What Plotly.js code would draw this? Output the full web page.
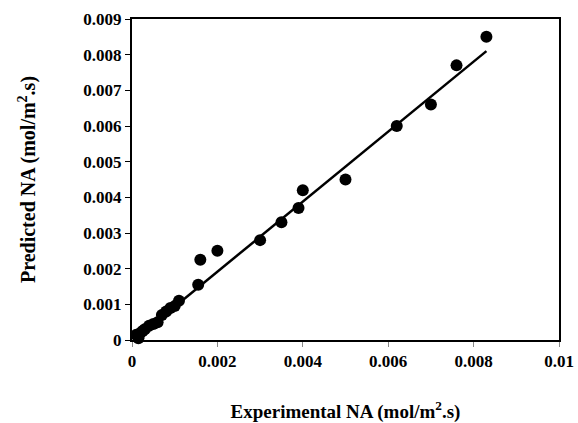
<!DOCTYPE html>
<html><head><meta charset="utf-8">
<script src="https://cdn.plot.ly/plotly-3.0.1.min.js"></script>
<style>html,body{margin:0;padding:0;background:#fff}#c{width:578px;height:423px}</style>
</head><body><div id="c"></div>
<script>
var expNA = [0.0083, 0.0076, 0.0070, 0.0062, 0.0050, 0.0040, 0.0039, 0.0035, 0.0030, 0.0020, 0.0016, 0.00155,
             0.0011, 0.0010, 0.0009, 0.0008, 0.0007, 0.0006, 0.0005, 0.0004, 0.0003, 0.00025, 0.0002, 0.00015, 0.0001, 0.00015];
var predNA = [0.0085, 0.0077, 0.0066, 0.0060, 0.0045, 0.0042, 0.0037, 0.0033, 0.0028, 0.0025, 0.00225, 0.00155,
              0.0011, 0.00095, 0.0009, 0.0008, 0.0007, 0.0005, 0.00045, 0.0004, 0.0003, 0.00025, 0.0002, 0.0001, 0.00015, 0.00005];
var fitX = [0.0001, 0.0083];
var fitY = [0.00005, 0.0081];
var xTickVals = [0, 0.002, 0.004, 0.006, 0.008, 0.01];
var xTickText = ['0', '0.002', '0.004', '0.006', '0.008', '0.01'];
var yTickVals = [0, 0.001, 0.002, 0.003, 0.004, 0.005, 0.006, 0.007, 0.008, 0.009];
var yTickText = ['0', '0.001', '0.002', '0.003', '0.004', '0.005', '0.006', '0.007', '0.008', '0.009'];
var fam = 'Liberation Serif';
function bold(a){ return a.map(function(s){ return '<b>' + s + '</b>'; }); }
Plotly.newPlot('c', [
  {x: expNA, y: predNA, type: 'scatter', mode: 'markers', marker: {color: '#000', size: 12}, cliponaxis: false},
  {x: fitX, y: fitY, type: 'scatter', mode: 'lines', line: {color: '#000', width: 2.5}}
], {
  width: 578, height: 423, showlegend: false,
  margin: {l: 132, r: 19, t: 19, b: 83},
  paper_bgcolor: '#fff', plot_bgcolor: '#fff',
  font: {family: fam, size: 17, color: '#000'},
  xaxis: {range: [0, 0.01], tickmode: 'array', tickvals: xTickVals, ticktext: bold(xTickText), showgrid: false, zeroline: false,
    showline: true, linecolor: '#000', linewidth: 2, mirror: true, ticks: 'outside', ticklen: 5, tickcolor: '#888',
    tickfont: {family: fam, size: 17, color: '#000'},
    title: {text: '<b>Experimental NA (mol/m<sup>2</sup>.s)</b>', font: {family: fam, size: 19, color: '#000'}, standoff: 36}},
  yaxis: {range: [0, 0.009], tickmode: 'array', tickvals: yTickVals, ticktext: bold(yTickText), showgrid: false, zeroline: false,
    showline: true, linecolor: '#000', linewidth: 2, mirror: true, ticks: 'outside', ticklen: 5, tickcolor: '#000',
    tickfont: {family: fam, size: 17, color: '#000'},
    title: {text: '<b>Predicted NA (mol/m<sup>2</sup>.s)</b>', font: {family: fam, size: 20, color: '#000'}, standoff: 42}}
}, {staticPlot: true});
</script></body></html>
